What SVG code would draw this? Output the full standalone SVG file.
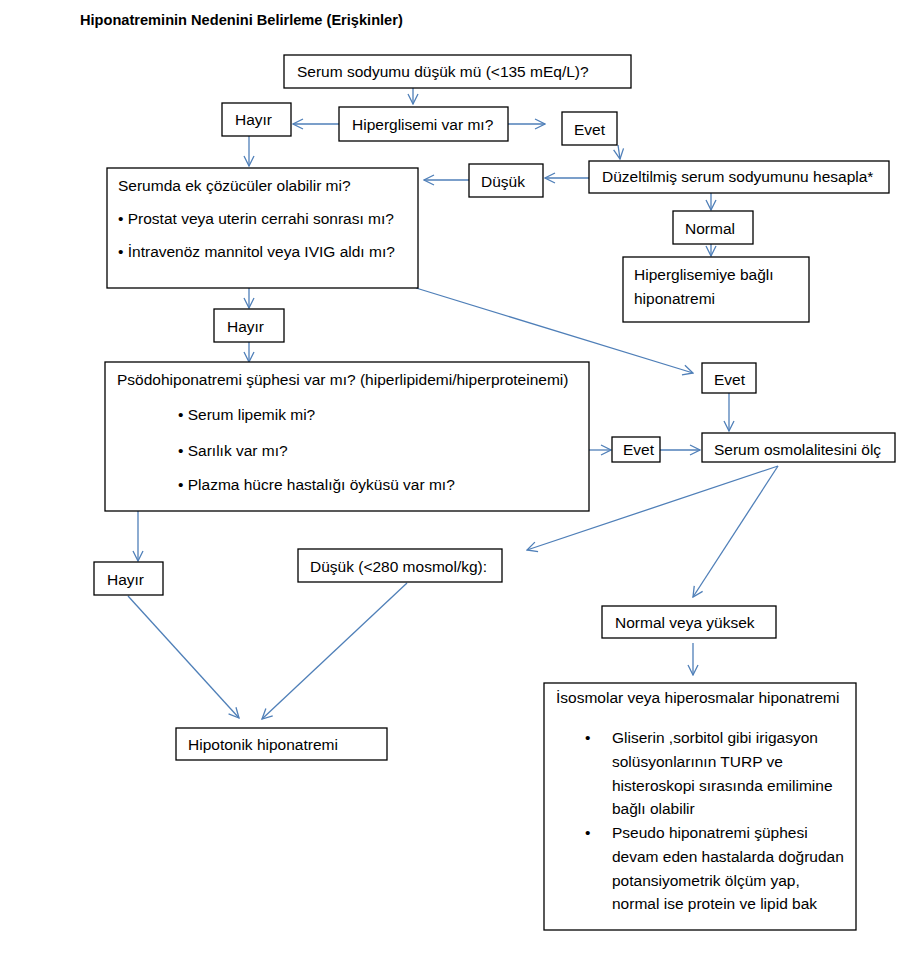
<svg xmlns="http://www.w3.org/2000/svg" width="902" height="973" viewBox="0 0 902 973">
<style>
.box{fill:#fff;stroke:#000;stroke-width:1.3}
text{font-family:"Liberation Sans",Arial,sans-serif;font-size:15.5px;fill:#000}
.title{font-weight:bold;font-size:14.6px}
.c line{stroke:#4f7fb8;stroke-width:1.3;marker-end:url(#ah)}
</style>
<defs>
<marker id="ah" viewBox="0 0 12 12" refX="11" refY="6" markerWidth="12" markerHeight="12" markerUnits="userSpaceOnUse" orient="auto">
<polyline points="1,1 11,6 1,11" fill="none" stroke="#4f7fb8" stroke-width="1.3"/>
</marker>
</defs>
<rect width="902" height="973" fill="#fff"/>
<text class="title" x="80" y="25">Hiponatreminin Nedenini Belirleme (Erişkinler)</text>

<g class="c">
<line x1="413" y1="88" x2="413" y2="104"/>
<line x1="339" y1="124" x2="293" y2="124"/>
<line x1="508" y1="124" x2="545" y2="124"/>
<line x1="618" y1="145" x2="620" y2="159"/>
<line x1="249" y1="136" x2="249" y2="166"/>
<line x1="589" y1="178" x2="545" y2="178"/>
<line x1="469" y1="180" x2="424" y2="180"/>
<line x1="711" y1="193" x2="711" y2="210"/>
<line x1="711" y1="244" x2="711" y2="256"/>
<line x1="416" y1="288" x2="693" y2="373"/>
<line x1="249" y1="288" x2="249" y2="308"/>
<line x1="249" y1="342" x2="249" y2="362"/>
<line x1="589" y1="450" x2="611" y2="450"/>
<line x1="660" y1="450" x2="700" y2="450"/>
<line x1="729" y1="393" x2="729" y2="431"/>
<line x1="778" y1="466" x2="527" y2="550"/>
<line x1="778" y1="466" x2="693" y2="597"/>
<line x1="138" y1="511" x2="138" y2="561"/>
<line x1="128" y1="596" x2="239" y2="718"/>
<line x1="407" y1="583" x2="262" y2="719"/>
<line x1="693" y1="643" x2="693" y2="675"/>
</g>

<g id="n_serum"><rect class="box" x="284" y="55" width="347" height="33"/><text x="297" y="77">Serum sodyumu düşük mü (&lt;135 mEq/L)?</text></g>
<g id="n_hiperglisemi"><rect class="box" x="339" y="107" width="169" height="34"/><text x="352" y="130">Hiperglisemi var mı?</text></g>
<g id="n_hayir1"><rect class="box" x="222" y="103" width="69" height="33"/><text x="235" y="125">Hayır</text></g>
<g id="n_evet1"><rect class="box" x="562" y="112" width="55" height="33"/><text x="574" y="135">Evet</text></g>
<g id="n_duzeltilmis"><rect class="box" x="589" y="161" width="300" height="32"/><text x="602" y="182">Düzeltilmiş serum sodyumunu hesapla*</text></g>
<g id="n_dusuk1"><rect class="box" x="469" y="164" width="74" height="33"/><text x="481" y="187">Düşük</text></g>
<g id="n_cozuculer"><rect class="box" x="107" y="168" width="311" height="120"/>
<text x="118" y="191">Serumda ek çözücüler olabilir mi?</text>
<text x="118" y="224">• Prostat veya uterin cerrahi sonrası mı?</text>
<text x="118" y="257">• İntravenöz mannitol veya IVIG aldı mı?</text></g>
<g id="n_normal"><rect class="box" x="673" y="211" width="80" height="33"/><text x="685" y="234">Normal</text></g>
<g id="n_hiperglisemiye"><rect class="box" x="623" y="257" width="186" height="65"/>
<text x="634" y="280">Hiperglisemiye bağlı</text><text x="634" y="304">hiponatremi</text></g>
<g id="n_hayir2"><rect class="box" x="214" y="309" width="70" height="33"/><text x="227" y="332">Hayır</text></g>
<g id="n_psodo"><rect class="box" x="105" y="362" width="484" height="149"/>
<text x="117" y="385">Psödohiponatremi şüphesi var mı? (hiperlipidemi/hiperproteinemi)</text>
<text x="178" y="420">• Serum lipemik mi?</text>
<text x="178" y="456">• Sarılık var mı?</text>
<text x="178" y="490">• Plazma hücre hastalığı öyküsü var mı?</text></g>
<g id="n_evet3"><rect class="box" x="702" y="363" width="54" height="30"/><text x="714" y="385">Evet</text></g>
<g id="n_evet2"><rect class="box" x="612" y="437" width="48" height="25"/><text x="623" y="455">Evet</text></g>
<g id="n_osmolalite"><rect class="box" x="702" y="433" width="193" height="29"/><text x="714" y="455">Serum osmolalitesini ölç</text></g>
<g id="n_hayir3"><rect class="box" x="94" y="562" width="69" height="33"/><text x="107" y="585">Hayır</text></g>
<g id="n_dusuk2"><rect class="box" x="298" y="549" width="204" height="33"/><text x="310" y="572">Düşük (&lt;280 mosmol/kg):</text></g>
<g id="n_hipotonik"><rect class="box" x="176" y="728" width="211" height="32"/><text x="188" y="750">Hipotonik hiponatremi</text></g>
<g id="n_normalyuksek"><rect class="box" x="602" y="606" width="174" height="32"/><text x="615" y="628">Normal veya yüksek</text></g>
<g id="n_isosmolar"><rect class="box" x="544" y="683" width="312" height="247"/>
<text x="556" y="703">İsosmolar veya hiperosmalar hiponatremi</text>
<text x="585" y="743">•</text>
<text x="612" y="743">Gliserin ,sorbitol gibi irigasyon</text>
<text x="612" y="767">solüsyonlarının TURP ve</text>
<text x="612" y="791">histeroskopi sırasında emilimine</text>
<text x="612" y="814">bağlı olabilir</text>
<text x="585" y="838">•</text>
<text x="612" y="838">Pseudo hiponatremi şüphesi</text>
<text x="612" y="862">devam eden hastalarda doğrudan</text>
<text x="612" y="886">potansiyometrik ölçüm yap,</text>
<text x="612" y="909">normal ise protein ve lipid bak</text></g>
</svg>
